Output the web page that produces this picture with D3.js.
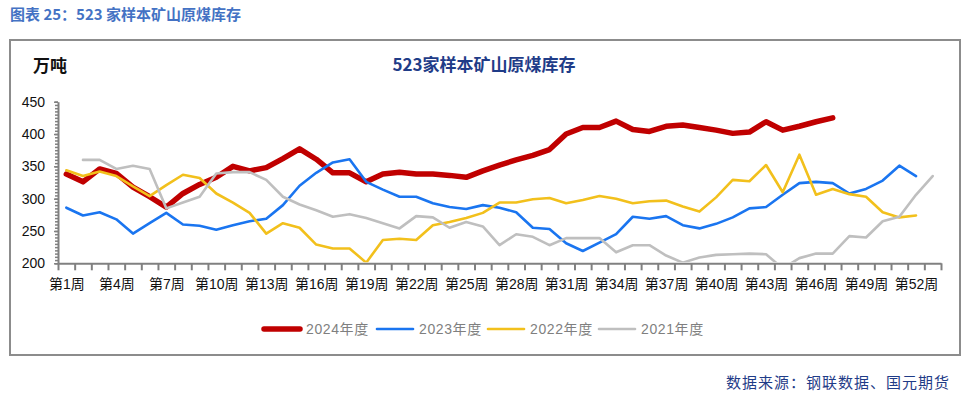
<!DOCTYPE html>
<html>
<head>
<meta charset="utf-8">
<script src="https://cdn.jsdelivr.net/npm/d3@7"></script>
<style>
  body { margin: 0; background: #fff; }
  svg text { font-family: "Liberation Sans", Arial, "Noto Sans CJK SC", sans-serif; }
</style>
</head>
<body>
<script>
// weekly inventory, 万吨
var weeks = d3.range(1, 54);
var tickWeeks = [1, 4, 7, 10, 13, 16, 19, 22, 25, 28, 31, 34, 37, 40, 43, 46, 49, 52];
var yTicks = [200, 250, 300, 350, 400, 450];

var s2024 = [338, 326, 346, 339, 318, 303, 287, 308, 322, 333, 350, 343, 348, 362, 377, 361, 340, 340, 326, 338,
             341, 338, 338, 336, 333, 343, 352, 360, 367, 376, 400, 410, 410, 420, 407, 404, 412, 414, 410, 406,
             401, 403, 419, 406, 412, 419, 425];
var s2023 = [286, 274, 279, 268, 246, 262, 278, 260, 258, 252, 259, 265, 269, 290, 320, 340, 356, 361, 326, 314,
             303, 303, 293, 287, 284, 290, 286, 279, 255, 253, 231, 219, 232, 245, 272, 269, 273, 259, 254, 261,
             271, 285, 287, 306, 324, 326, 324, 308, 315, 328, 351, 335];
var s2022 = [344, 335, 342, 335, 319, 304, 321, 337, 332, 308, 294, 278, 246, 262, 255, 229, 223, 223, 201, 236,
             238, 236, 259, 264, 270, 278, 294, 294, 299, 301, 293, 298, 304, 300, 293, 296, 297, 288, 280, 302,
             329, 327, 352, 310, 368, 306, 315, 307, 303, 279, 271, 274];
var s2021 = [null, 360, 360, 346, 351, 346, 285, 294, 303, 339, 341, 341, 329, 303, 291, 282, 272, 276, 270, 262,
             254, 273, 271, 255, 264, 257, 228, 245, 241, 228, 239, 239, 239, 217, 228, 228, 212, 201, 209, 213,
             214, 215, 214, 192, 208, 215, 215, 242, 240, 265, 272, 306, 335];

var seriesNames = ["2024年度", "2023年度", "2022年度", "2021年度"];
var seriesData = [s2024, s2023, s2022, s2021];
var colors = ["#C00000", "#1A75F0", "#F2C01C", "#BFBFBF"];
var widths = [5.5, 2.6, 2.6, 2.6];

var W = 963, H = 394;
var plot = {left: 58, right: 941, top: 101.7, bottom: 263.3};

var svg = d3.select("body").append("svg")
    .attr("width", W)
    .attr("height", H);

// outer frame
svg.append("rect")
    .attr("x", 10).attr("y", 40)
    .attr("width", 950).attr("height", 315)
    .attr("fill", "none")
    .attr("stroke", "#8c8c8c")
    .attr("stroke-width", 2);

// captions
svg.append("text")
    .attr("x", 10).attr("y", 20)
    .style("font-family", "'Noto Sans CJK SC', sans-serif")
    .style("font-size", "15px")
    .style("font-weight", "bold")
    .style("fill", "#4472C4")
    .text("图表 25：523 家样本矿山原煤库存");

svg.append("text")
    .attr("x", 484).attr("y", 71)
    .attr("text-anchor", "middle")
    .style("font-family", "'Noto Sans CJK SC', sans-serif")
    .style("font-size", "17px")
    .style("font-weight", "bold")
    .style("fill", "#1F3C88")
    .text("523家样本矿山原煤库存");

svg.append("text")
    .attr("x", 33).attr("y", 72)
    .style("font-family", "'Noto Sans CJK SC', sans-serif")
    .style("font-size", "17px")
    .style("font-weight", "bold")
    .style("fill", "#111")
    .text("万吨");

svg.append("text")
    .attr("x", 950).attr("y", 388)
    .attr("text-anchor", "end")
    .style("font-family", "'Noto Sans CJK SC', sans-serif")
    .style("font-size", "15px")
    .style("letter-spacing", "1px")
    .style("fill", "#1F3C88")
    .text("数据来源：钢联数据、国元期货");

// scales
var x = d3.scaleLinear().domain([0.5, 53.5]).range([plot.left, plot.right]);
var y = d3.scaleLinear().domain([200, 450]).range([plot.bottom, plot.top]);

// x axis: boundary ticks
var xTickAxis = svg.append("g")
    .attr("transform", "translate(0," + plot.bottom + ")")
    .call(d3.axisBottom(x).tickValues(d3.range(0.5, 54, 1)).tickFormat("").tickSize(7).tickSizeOuter(0));
xTickAxis.select(".domain").attr("stroke", "#808080").attr("stroke-width", 2);
xTickAxis.selectAll(".tick line").attr("stroke", "#808080").attr("stroke-width", 2);

// x axis labels
var xLab = svg.append("g")
    .attr("transform", "translate(0," + plot.bottom + ")")
    .call(d3.axisBottom(x).tickValues(tickWeeks).tickFormat(function (d) { return "第" + d + "周"; }).tickSize(0));
xLab.select(".domain").remove();
xLab.selectAll("text")
    .attr("dy", 0).attr("y", 26)
    .style("font-size", "14px")
    .style("fill", "#111");

// y axis minor ticks
var yMinor = svg.append("g")
    .attr("transform", "translate(" + plot.left + ",0)")
    .call(d3.axisLeft(y).tickValues(d3.range(200, 451, 5)).tickFormat("").tickSize(3).tickSizeOuter(0));
yMinor.select(".domain").attr("stroke", "#808080").attr("stroke-width", 2);
yMinor.selectAll(".tick line").attr("stroke", "#808080").attr("stroke-width", 1.5);

var yAxis = svg.append("g")
    .attr("transform", "translate(" + plot.left + ",0)")
    .call(d3.axisLeft(y).tickValues(yTicks).tickSize(4).tickSizeOuter(0).tickPadding(9));
yAxis.select(".domain").remove();
yAxis.selectAll(".tick line").attr("stroke", "#808080").attr("stroke-width", 1.5);
yAxis.selectAll("text")
    .style("font-size", "14px")
    .style("fill", "#111");

// clip
svg.append("clipPath").attr("id", "plotClip")
    .append("rect")
    .attr("x", plot.left).attr("y", plot.top - 10)
    .attr("width", plot.right - plot.left).attr("height", plot.bottom - plot.top + 9);

var line = d3.line()
    .defined(function (d) { return d != null; })
    .x(function (d, i) { return x(weeks[i]); })
    .y(function (d) { return y(d); });

var lines = svg.append("g").attr("clip-path", "url(#plotClip)");
seriesData.forEach(function (s, k) {
    lines.append("path")
        .datum(s)
        .attr("d", line)
        .attr("fill", "none")
        .attr("stroke", colors[k])
        .attr("stroke-width", widths[k])
        .attr("stroke-linejoin", "round")
        .attr("stroke-linecap", "round");
});

// legend
var legX = [262, 375, 486, 597];
var legend = svg.append("g");
seriesNames.forEach(function (name, k) {
    legend.append("line")
        .attr("x1", legX[k] + 2).attr("x2", legX[k] + 38)
        .attr("y1", 329).attr("y2", 329)
        .attr("stroke", colors[k])
        .attr("stroke-width", widths[k])
        .attr("stroke-linecap", "round");
    legend.append("text")
        .attr("x", legX[k] + 44).attr("y", 334)
        .style("font-size", "14px")
        .style("letter-spacing", "0.6px")
        .style("fill", "#7f7f7f")
        .text(name);
});
</script>
</body>
</html>
